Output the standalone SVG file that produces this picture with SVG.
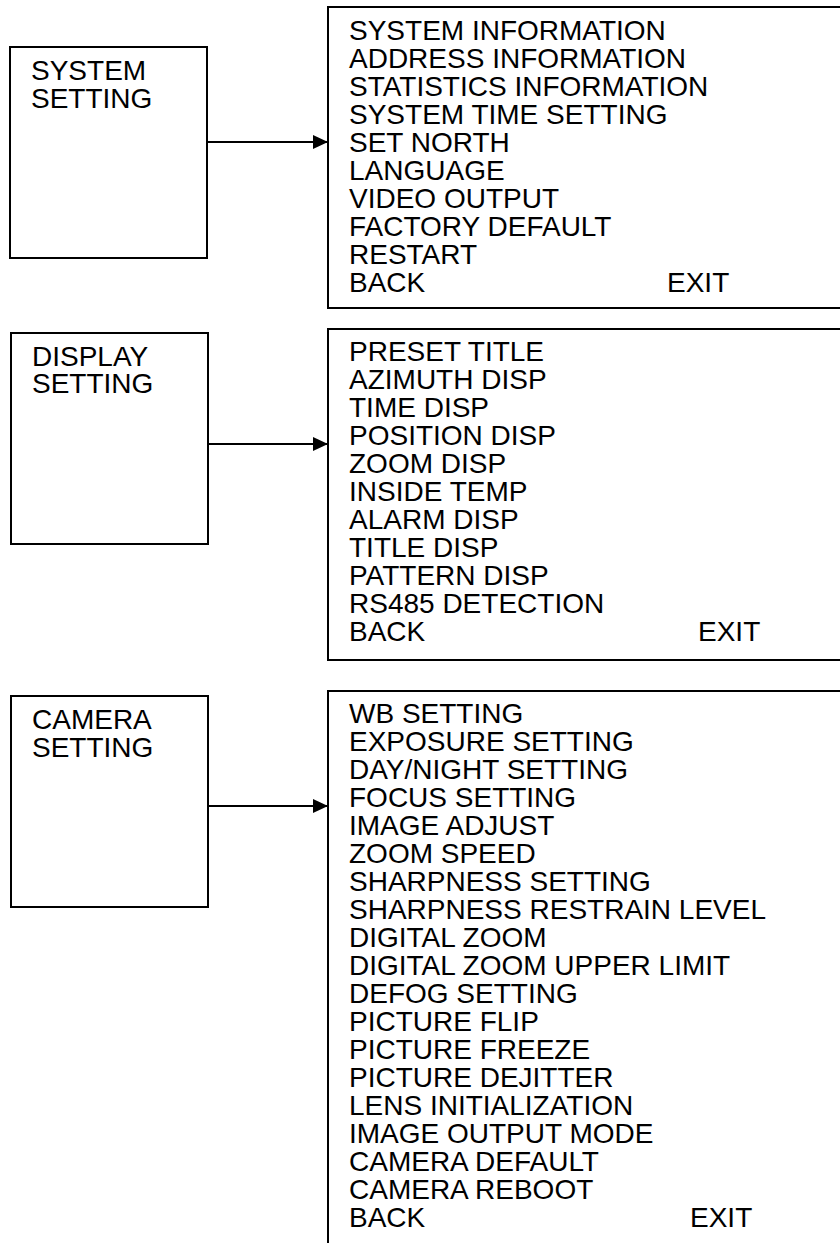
<svg xmlns="http://www.w3.org/2000/svg" width="840" height="1243" viewBox="0 0 840 1243">
<style>
.box{fill:none;stroke:#000;stroke-width:2}
.t{font-family:"Liberation Sans",Arial,sans-serif;font-size:28px;fill:#000}
.c{stroke:#000;stroke-width:2;fill:none}
</style>
<defs>
<marker id="ah" markerWidth="16" markerHeight="14" refX="15" refY="7" orient="auto" markerUnits="userSpaceOnUse">
<path d="M0,0 L15,7 L0,14 Z" fill="#000"/>
</marker>
</defs>
<rect width="840" height="1243" fill="#fff"/>
<g id="system-setting">
<rect class="box" x="10" y="47" width="197" height="211"/>
<text class="t" x="31" y="80">SYSTEM</text>
<text class="t" x="31" y="108">SETTING</text>
</g>
<g id="system-menu">
<rect class="box" x="328" y="7" width="530" height="301"/>
<text class="t" x="349" y="40">SYSTEM INFORMATION</text>
<text class="t" x="349" y="68">ADDRESS INFORMATION</text>
<text class="t" x="349" y="96">STATISTICS INFORMATION</text>
<text class="t" x="349" y="124">SYSTEM TIME SETTING</text>
<text class="t" x="349" y="152">SET NORTH</text>
<text class="t" x="349" y="180">LANGUAGE</text>
<text class="t" x="349" y="208">VIDEO OUTPUT</text>
<text class="t" x="349" y="236">FACTORY DEFAULT</text>
<text class="t" x="349" y="264">RESTART</text>
<text class="t" x="349" y="292">BACK</text>
<text class="t" x="667" y="292">EXIT</text>
</g>
<g id="display-setting">
<rect class="box" x="11" y="333" width="197" height="211"/>
<text class="t" x="32" y="366">DISPLAY</text>
<text class="t" x="32" y="393">SETTING</text>
</g>
<g id="display-menu">
<rect class="box" x="328" y="329" width="530" height="331"/>
<text class="t" x="349" y="361">PRESET TITLE</text>
<text class="t" x="349" y="389">AZIMUTH DISP</text>
<text class="t" x="349" y="417">TIME DISP</text>
<text class="t" x="349" y="445">POSITION DISP</text>
<text class="t" x="349" y="473">ZOOM DISP</text>
<text class="t" x="349" y="501">INSIDE TEMP</text>
<text class="t" x="349" y="529">ALARM DISP</text>
<text class="t" x="349" y="557">TITLE DISP</text>
<text class="t" x="349" y="585">PATTERN DISP</text>
<text class="t" x="349" y="613">RS485 DETECTION</text>
<text class="t" x="349" y="641">BACK</text>
<text class="t" x="698" y="641">EXIT</text>
</g>
<g id="camera-setting">
<rect class="box" x="11" y="696" width="197" height="211"/>
<text class="t" x="32" y="729">CAMERA</text>
<text class="t" x="32" y="757">SETTING</text>
</g>
<g id="camera-menu">
<rect class="box" x="328" y="691" width="530" height="600"/>
<text class="t" x="349" y="723">WB SETTING</text>
<text class="t" x="349" y="751">EXPOSURE SETTING</text>
<text class="t" x="349" y="779">DAY/NIGHT SETTING</text>
<text class="t" x="349" y="807">FOCUS SETTING</text>
<text class="t" x="349" y="835">IMAGE ADJUST</text>
<text class="t" x="349" y="863">ZOOM SPEED</text>
<text class="t" x="349" y="891">SHARPNESS SETTING</text>
<text class="t" x="349" y="919">SHARPNESS RESTRAIN LEVEL</text>
<text class="t" x="349" y="947">DIGITAL ZOOM</text>
<text class="t" x="349" y="975">DIGITAL ZOOM UPPER LIMIT</text>
<text class="t" x="349" y="1003">DEFOG SETTING</text>
<text class="t" x="349" y="1031">PICTURE FLIP</text>
<text class="t" x="349" y="1059">PICTURE FREEZE</text>
<text class="t" x="349" y="1087">PICTURE DEJITTER</text>
<text class="t" x="349" y="1115">LENS INITIALIZATION</text>
<text class="t" x="349" y="1143">IMAGE OUTPUT MODE</text>
<text class="t" x="349" y="1171">CAMERA DEFAULT</text>
<text class="t" x="349" y="1199">CAMERA REBOOT</text>
<text class="t" x="349" y="1227">BACK</text>
<text class="t" x="690" y="1227">EXIT</text>
</g>
<g id="connectors">
<line class="c" x1="207" y1="142" x2="328" y2="142" marker-end="url(#ah)"/>
<line class="c" x1="208" y1="444" x2="328" y2="444" marker-end="url(#ah)"/>
<line class="c" x1="208" y1="806" x2="328" y2="806" marker-end="url(#ah)"/>
</g>
</svg>
